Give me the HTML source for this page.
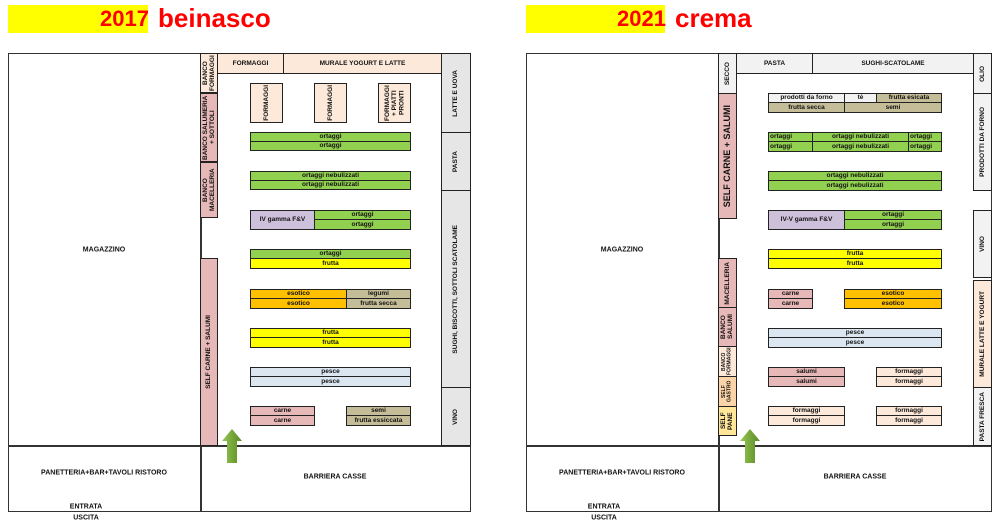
<!DOCTYPE html>
<html><head><meta charset="utf-8"><style>
body{margin:0;width:999px;height:523px;background:#fff;position:relative;overflow:hidden;font-family:"Liberation Sans",sans-serif}
div{position:absolute;box-sizing:border-box}
.b{border:1px solid #222;display:flex;align-items:center;justify-content:center;font-size:6.5px;font-weight:bold;color:#111;text-align:center;line-height:1.1;overflow:hidden}
.v{writing-mode:vertical-rl;transform:rotate(180deg)}
.t{font-size:7px;font-weight:bold;color:#111;white-space:nowrap;transform:translate(-50%,-50%)}
.g{background:#92d050}.y{background:#ffff00}.o{background:#ffc000}.k{background:#c4bd97}.p{background:#e6b8b7}.pe{background:#fde9d9}.bl{background:#dce6f1}.pu{background:#ccc0da}.gr{background:#e7e6e6}.w{background:#f2f2f2}
.ln{background:#333}
.hd{font-weight:bold;color:#f00;font-size:22px}
.arr{width:20px;height:34px}
</style></head><body>
<!-- headers -->
<div style="left:8px;top:5px;width:140px;height:28px;background:#ffff00"></div>
<div class="hd" style="left:100px;top:6px">2017</div>
<div class="hd" style="left:158px;top:3px;font-size:26px">beinasco</div>
<div style="left:526px;top:5px;width:139px;height:28px;background:#ffff00"></div>
<div class="hd" style="left:617px;top:6px">2021</div>
<div class="hd" style="left:675px;top:3px;font-size:26px">crema</div>

<!-- LEFT PLAN -->
<div style="left:8px;top:53px;width:463px;height:459px;border:1.5px solid #333"></div>
<div class="ln" style="left:8px;top:445px;width:463px;height:1.5px"></div>
<div class="ln" style="left:200px;top:53px;width:1.5px;height:459px"></div>
<div class="b pe" style="left:200px;top:53px;width:18px;height:40px"><span class="v">BANCO FORMAGGI</span></div>
<div class="b p" style="left:200px;top:93px;width:18px;height:69px"><span class="v">BANCO SALUMERIA + SOTTOLI</span></div>
<div class="b p" style="left:200px;top:162px;width:18px;height:56px"><span class="v">BANCO MACELLERIA</span></div>
<div class="b p" style="left:200px;top:258px;width:18px;height:188px"><span class="v">SELF CARNE + SALUMI</span></div>
<div class="b pe" style="left:217px;top:53px;width:67px;height:21px">FORMAGGI</div>
<div class="b pe" style="left:283px;top:53px;width:159px;height:21px">MURALE YOGURT E LATTE</div>
<div class="b gr" style="left:441px;top:53px;width:30px;height:80px"><span class="v">LATTE E UOVA</span></div>
<div class="b gr" style="left:441px;top:132px;width:30px;height:59px"><span class="v">PASTA</span></div>
<div class="b gr" style="left:441px;top:190px;width:30px;height:198px"><span class="v">SUGHI, BISCOTTI, SOTTOLI SCATOLAME</span></div>
<div class="b gr" style="left:441px;top:387px;width:30px;height:59px"><span class="v">VINO</span></div>
<div class="b pe" style="left:250px;top:83px;width:33px;height:40px"><span class="v">FORMAGGI</span></div>
<div class="b pe" style="left:314px;top:83px;width:33px;height:40px"><span class="v">FORMAGGI</span></div>
<div class="b pe" style="left:378px;top:83px;width:33px;height:40px"><span class="v">FORMAGGI + PIATTI PRONTI</span></div>
<div class="b g" style="left:250px;top:132px;width:161px;height:10px">ortaggi</div>
<div class="b g" style="left:250px;top:141px;width:161px;height:10px">ortaggi</div>
<div class="b g" style="left:250px;top:171px;width:161px;height:10px">ortaggi nebulizzati</div>
<div class="b g" style="left:250px;top:180px;width:161px;height:10px">ortaggi nebulizzati</div>
<div class="b pu" style="left:250px;top:210px;width:65px;height:20px">IV gamma F&amp;V</div>
<div class="b g" style="left:314px;top:210px;width:97px;height:10px">ortaggi</div>
<div class="b g" style="left:314px;top:219px;width:97px;height:11px">ortaggi</div>
<div class="b g" style="left:250px;top:249px;width:161px;height:10px">ortaggi</div>
<div class="b y" style="left:250px;top:258px;width:161px;height:11px">frutta</div>
<div class="b o" style="left:250px;top:289px;width:97px;height:10px">esotico</div>
<div class="b o" style="left:250px;top:298px;width:97px;height:11px">esotico</div>
<div class="b k" style="left:346px;top:289px;width:65px;height:10px">legumi</div>
<div class="b k" style="left:346px;top:298px;width:65px;height:11px">frutta secca</div>
<div class="b y" style="left:250px;top:328px;width:161px;height:10px">frutta</div>
<div class="b y" style="left:250px;top:337px;width:161px;height:11px">frutta</div>
<div class="b bl" style="left:250px;top:367px;width:161px;height:10px">pesce</div>
<div class="b bl" style="left:250px;top:376px;width:161px;height:11px">pesce</div>
<div class="b p" style="left:250px;top:406px;width:65px;height:10px">carne</div>
<div class="b p" style="left:250px;top:415px;width:65px;height:11px">carne</div>
<div class="b k" style="left:346px;top:406px;width:65px;height:10px">semi</div>
<div class="b k" style="left:346px;top:415px;width:65px;height:11px">frutta essiccata</div>
<svg style="position:absolute;left:221px;top:428px" width="22" height="36"><defs><linearGradient id="ga" x1="0" x2="1"><stop offset="0" stop-color="#9bc65a"/><stop offset="0.5" stop-color="#77a83a"/><stop offset="1" stop-color="#5a8a2a"/></linearGradient></defs><polygon points="11,1 21,13 16,13 16,35 6,35 6,13 1,13" fill="url(#ga)"/></svg>
<div class="t" style="left:104px;top:250px">MAGAZZINO</div>
<div class="t" style="left:104px;top:473px">PANETTERIA+BAR+TAVOLI RISTORO</div>
<div class="t" style="left:335px;top:477px">BARRIERA CASSE</div>
<div class="t" style="left:86px;top:507px">ENTRATA</div>
<div class="t" style="left:86px;top:518px">USCITA</div>

<!-- RIGHT PLAN -->
<div style="left:526px;top:53px;width:466px;height:459px;border:1.5px solid #333"></div>
<div class="ln" style="left:526px;top:445px;width:466px;height:1.5px"></div>
<div class="ln" style="left:718px;top:53px;width:1.5px;height:459px"></div>
<div class="b w" style="left:718px;top:53px;width:19px;height:41px"><span class="v">SECCO</span></div>
<div class="b p" style="left:718px;top:93px;width:19px;height:126px"><span class="v" style="font-size:9px">SELF CARNE + SALUMI</span></div>
<div class="b p" style="left:718px;top:258px;width:19px;height:50px"><span class="v">MACELLERIA</span></div>
<div class="b p" style="left:718px;top:307px;width:19px;height:40px"><span class="v">BANCO SALUMI</span></div>
<div class="b pe" style="left:718px;top:346px;width:19px;height:31px"><span class="v" style="font-size:5px">BANCO FORMAGGI</span></div>
<div class="b" style="left:718px;top:376px;width:19px;height:31px;background:#fbd5a8"><span class="v" style="font-size:5px">SELF GASTRO</span></div>
<div class="b" style="left:718px;top:406px;width:19px;height:30px;background:#ffe699"><span class="v">SELF PANE</span></div>
<div class="b w" style="left:736px;top:53px;width:77px;height:21px">PASTA</div>
<div class="b w" style="left:812px;top:53px;width:162px;height:21px">SUGHI-SCATOLAME</div>
<div class="b w" style="left:973px;top:53px;width:19px;height:41px"><span class="v">OLIO</span></div>
<div class="b w" style="left:973px;top:93px;width:19px;height:98px"><span class="v">PRODOTTI DA FORNO</span></div>
<div class="b w" style="left:973px;top:210px;width:19px;height:68px"><span class="v">VINO</span></div>
<div class="b pe" style="left:973px;top:280px;width:19px;height:108px"><span class="v">MURALE LATTE E YOGURT</span></div>
<div class="b w" style="left:973px;top:387px;width:19px;height:59px"><span class="v">PASTA FRESCA</span></div>
<div class="b w" style="left:768px;top:93px;width:77px;height:10px">prodotti da forno</div>
<div class="b w" style="left:844px;top:93px;width:33px;height:10px">tè</div>
<div class="b k" style="left:876px;top:93px;width:66px;height:10px">frutta esicata</div>
<div class="b k" style="left:768px;top:102px;width:77px;height:11px">frutta secca</div>
<div class="b k" style="left:844px;top:102px;width:98px;height:11px">semi</div>
<div class="b g" style="left:768px;top:132px;width:45px;height:10px;justify-content:flex-start;padding-left:1px">ortaggi</div>
<div class="b g" style="left:768px;top:141px;width:45px;height:11px;justify-content:flex-start;padding-left:1px">ortaggi</div>
<div class="b g" style="left:812px;top:132px;width:97px;height:10px">ortaggi nebulizzati</div>
<div class="b g" style="left:812px;top:141px;width:97px;height:11px">ortaggi nebulizzati</div>
<div class="b g" style="left:908px;top:132px;width:34px;height:10px;justify-content:flex-start;padding-left:1px">ortaggi</div>
<div class="b g" style="left:908px;top:141px;width:34px;height:11px;justify-content:flex-start;padding-left:1px">ortaggi</div>
<div class="b g" style="left:768px;top:171px;width:174px;height:10px">ortaggi nebulizzati</div>
<div class="b g" style="left:768px;top:180px;width:174px;height:11px">ortaggi nebulizzati</div>
<div class="b pu" style="left:768px;top:210px;width:77px;height:20px">IV-V gamma F&amp;V</div>
<div class="b g" style="left:844px;top:210px;width:98px;height:10px">ortaggi</div>
<div class="b g" style="left:844px;top:219px;width:98px;height:11px">ortaggi</div>
<div class="b y" style="left:768px;top:249px;width:174px;height:10px">frutta</div>
<div class="b y" style="left:768px;top:258px;width:174px;height:11px">frutta</div>
<div class="b p" style="left:768px;top:289px;width:45px;height:10px">carne</div>
<div class="b p" style="left:768px;top:298px;width:45px;height:11px">carne</div>
<div class="b o" style="left:844px;top:289px;width:98px;height:10px">esotico</div>
<div class="b o" style="left:844px;top:298px;width:98px;height:11px">esotico</div>
<div class="b bl" style="left:768px;top:328px;width:174px;height:10px">pesce</div>
<div class="b bl" style="left:768px;top:337px;width:174px;height:11px">pesce</div>
<div class="b p" style="left:768px;top:367px;width:77px;height:10px">salumi</div>
<div class="b p" style="left:768px;top:376px;width:77px;height:11px">salumi</div>
<div class="b pe" style="left:876px;top:367px;width:66px;height:10px">formaggi</div>
<div class="b pe" style="left:876px;top:376px;width:66px;height:11px">formaggi</div>
<div class="b pe" style="left:768px;top:406px;width:77px;height:10px">formaggi</div>
<div class="b pe" style="left:768px;top:415px;width:77px;height:11px">formaggi</div>
<div class="b pe" style="left:876px;top:406px;width:66px;height:10px">formaggi</div>
<div class="b pe" style="left:876px;top:415px;width:66px;height:11px">formaggi</div>
<svg style="position:absolute;left:739px;top:428px" width="22" height="36"><polygon points="11,1 21,13 16,13 16,35 6,35 6,13 1,13" fill="url(#ga)"/></svg>
<div class="t" style="left:622px;top:250px">MAGAZZINO</div>
<div class="t" style="left:622px;top:473px">PANETTERIA+BAR+TAVOLI RISTORO</div>
<div class="t" style="left:855px;top:477px">BARRIERA CASSE</div>
<div class="t" style="left:604px;top:507px">ENTRATA</div>
<div class="t" style="left:604px;top:518px">USCITA</div>
</body></html>
